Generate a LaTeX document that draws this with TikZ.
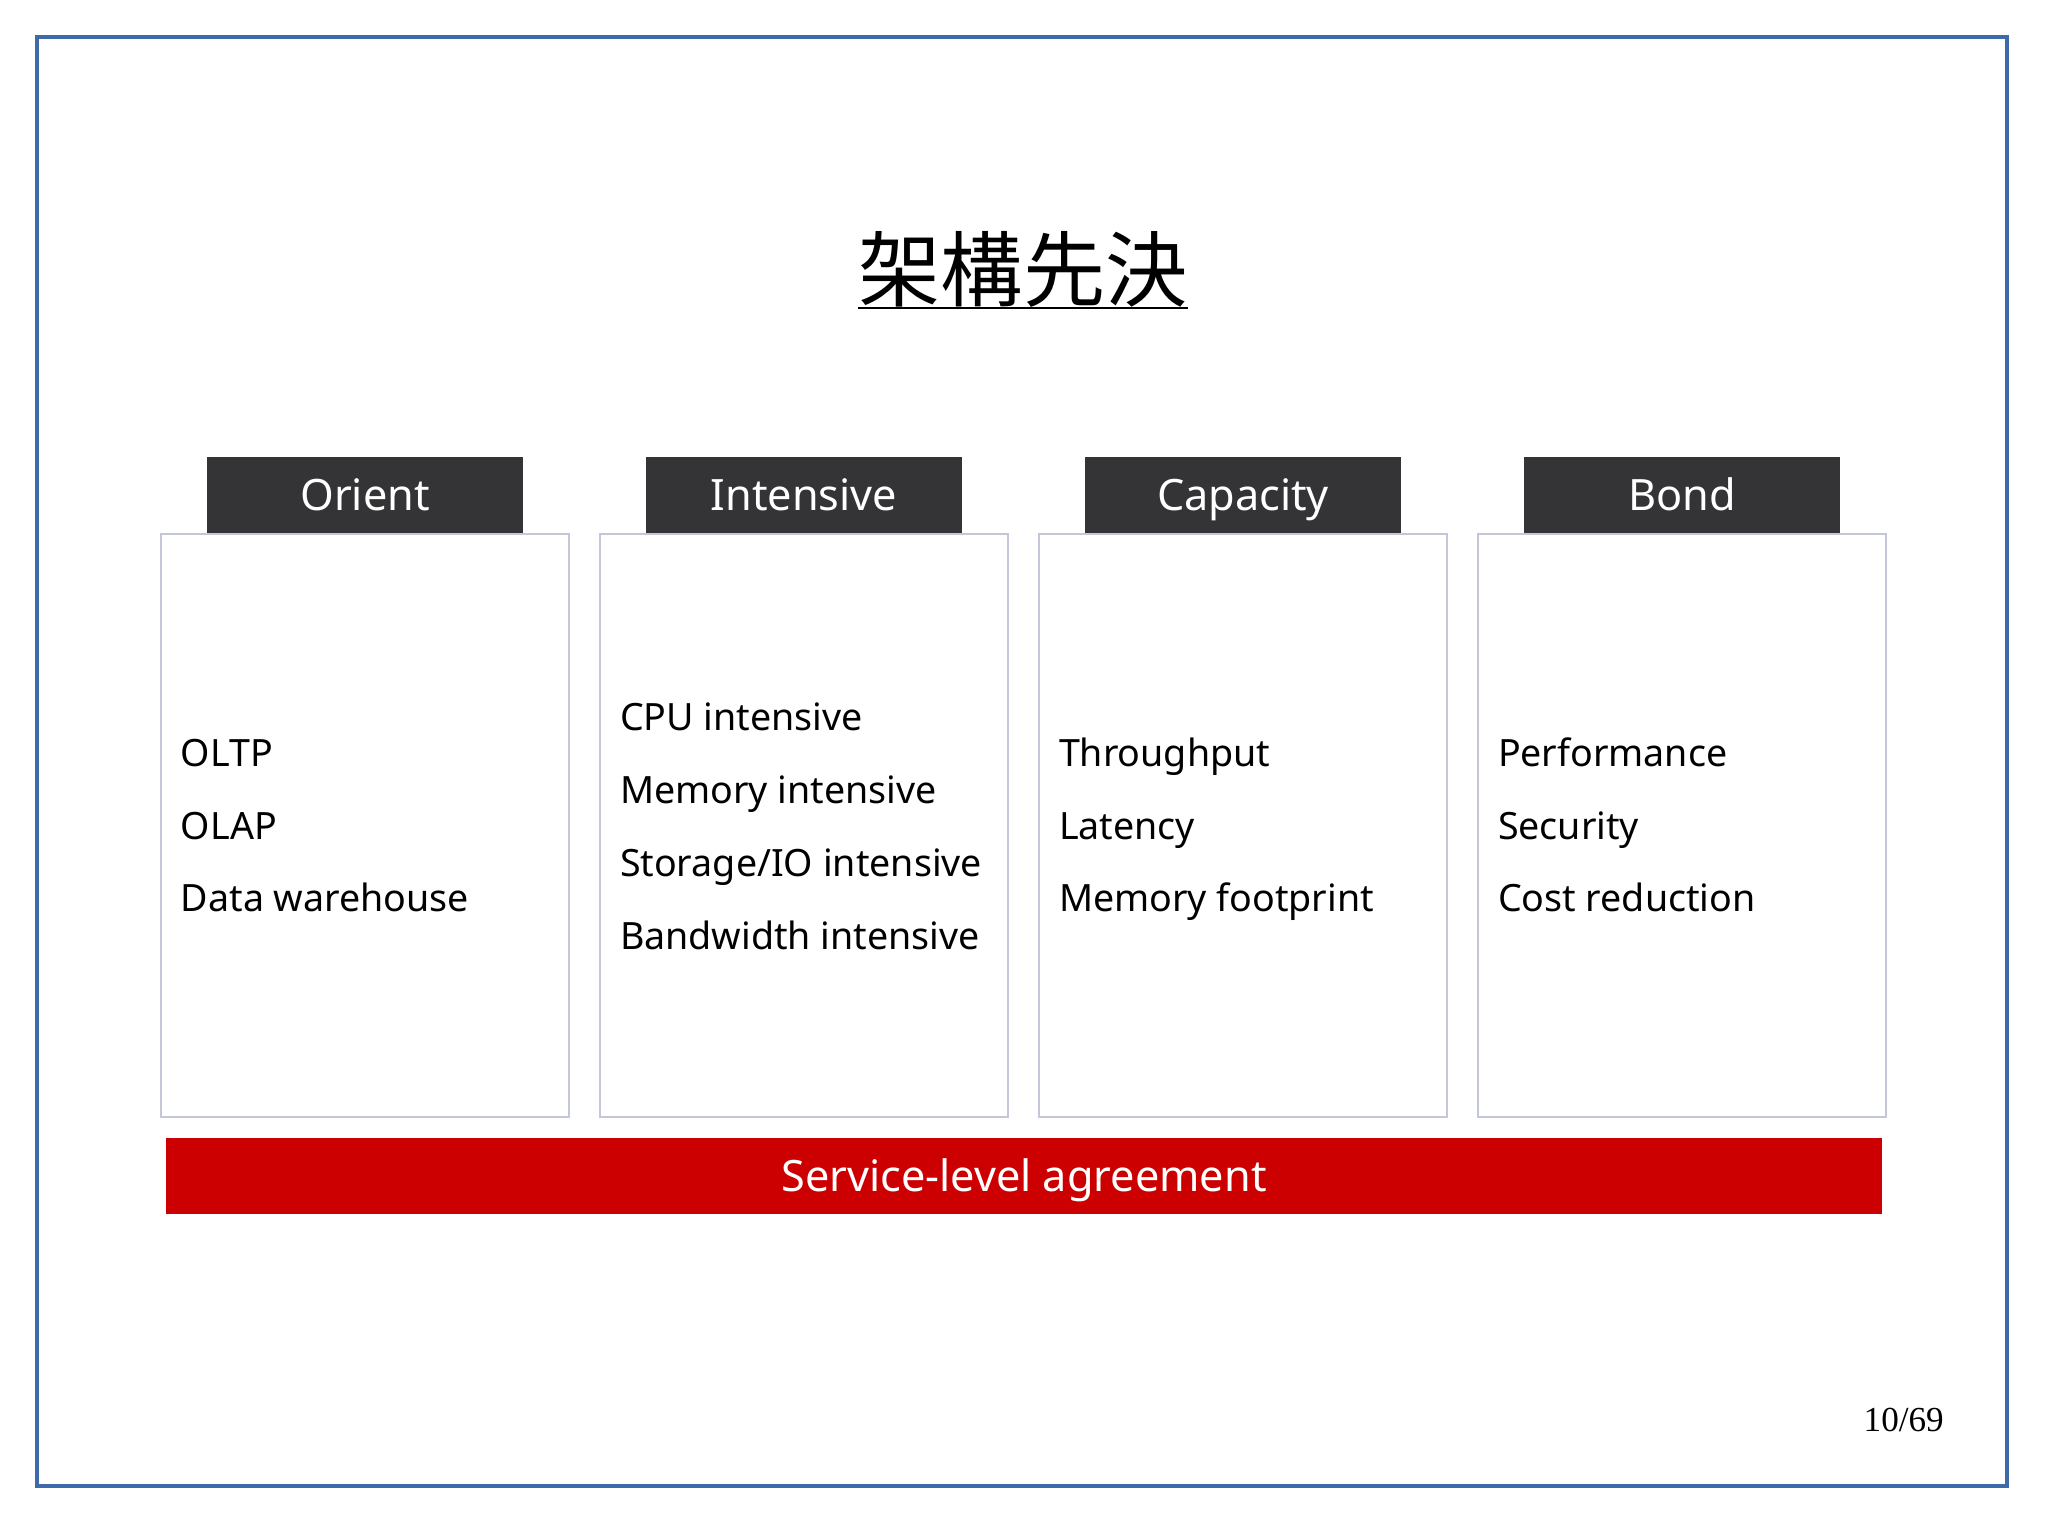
\documentclass[tikz,border=0pt]{standalone}
\usepackage{fontspec}
\setmainfont{Noto Sans}
\newfontfamily\cjk{Noto Sans CJK JP}
\newfontfamily\pagefont{Liberation Serif}
\usetikzlibrary{positioning}
\definecolor{frameblue}{HTML}{3E6AAA}
\definecolor{headgray}{HTML}{343436}
\definecolor{boxline}{HTML}{C3C7D9}
\definecolor{slared}{HTML}{CC0000}

\begin{document}
\begin{tikzpicture}[
  panel/.style={draw=boxline, line width=0.4pt, fill=white, minimum width=4.08cm, minimum height=5.83cm, inner sep=0pt},
  head/.style={fill=headgray, text=white, minimum width=3.16cm, minimum height=0.76cm, inner sep=0pt, text height=8.9pt, text depth=0pt, font=\fontsize{12.3}{14}\selectfont},
  item/.style={anchor=base west, inner sep=0pt, font=\fontsize{10.7}{13}\selectfont}]
\useasboundingbox (0,0) rectangle (20.48,15.35);
\draw[frameblue, line width=1pt](0.37,0.49) rectangle (20.07,14.98);

% title
\node[font=\cjk\fontsize{23.4}{28}\selectfont, inner sep=0pt] (title) at (10.23,12.66) {架構先決};
\draw[line width=0.6pt](title.south west)--(title.south east);

% four panels
\node[panel] (orient) at (3.65,7.095) {};
\node[panel] (intensive) at (8.04,7.095) {};
\node[panel] (capacity) at (12.43,7.095) {};
\node[panel] (bond) at (16.82,7.095) {};

\node[head, above=0cm of orient] (orienthead) {Orient};
\node[head, above=0cm of intensive] (intensivehead) {Intensive};
\node[head, above=0cm of capacity] (capacityhead) {Capacity};
\node[head, above=0cm of bond] (bondhead) {Bond};

\node[item] (oltp) at ([xshift=0.2cm, yshift=0.585cm]orient.west) {OLTP};
\node[item] (olap) at ([yshift=-0.725cm]oltp.base west) {OLAP};
\node[item] (dwh) at ([yshift=-0.725cm]olap.base west) {Data warehouse};

\node[item] (cpu) at ([xshift=0.2cm, yshift=0.95cm]intensive.west) {CPU intensive};
\node[item] (mem) at ([yshift=-0.73cm]cpu.base west) {Memory intensive};
\node[item] (storage) at ([yshift=-0.73cm]mem.base west) {Storage/IO intensive};
\node[item] (bandwidth) at ([yshift=-0.73cm]storage.base west) {Bandwidth intensive};

\node[item] (throughput) at ([xshift=0.2cm, yshift=0.585cm]capacity.west) {Throughput};
\node[item] (latency) at ([yshift=-0.725cm]throughput.base west) {Latency};
\node[item] (footprint) at ([yshift=-0.725cm]latency.base west) {Memory footprint};

\node[item] (perf) at ([xshift=0.2cm, yshift=0.585cm]bond.west) {Performance};
\node[item] (security) at ([yshift=-0.725cm]perf.base west) {Security};
\node[item] (cost) at ([yshift=-0.725cm]security.base west) {Cost reduction};

% bottom bar
\node[fill=slared, text=white, minimum width=17.16cm, minimum height=0.76cm, inner sep=0pt, text height=8.9pt, text depth=0pt, font=\fontsize{12.3}{14}\selectfont] (sla) at (10.24,3.59) {Service-level agreement};

\node[font=\pagefont\fontsize{10}{12}\selectfont, anchor=base west, inner sep=0pt] (pagenum) at (18.63,1.03) {10/69};
\end{tikzpicture}
\end{document}
